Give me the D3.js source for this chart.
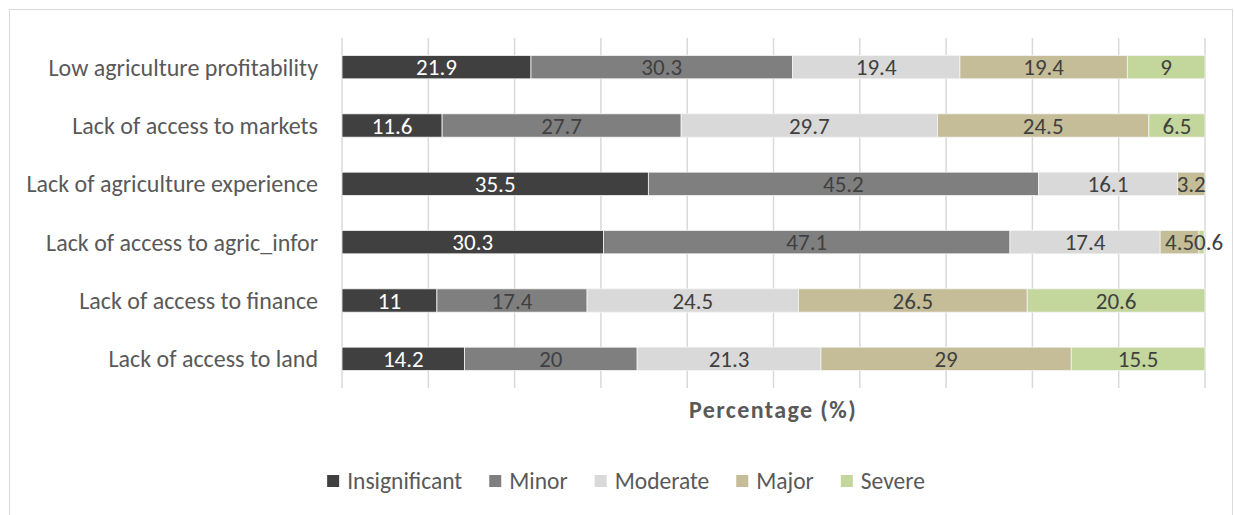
<!DOCTYPE html>
<html><head><meta charset="utf-8">
<script src="https://cdn.jsdelivr.net/npm/d3@7"></script>
<style>body{margin:0;background:#fff}svg{display:block}text{font-family:Carlito,Calibri,Lato,sans-serif}</style>
</head><body><svg id="c" width="1235" height="515"></svg>
<script>
const categories = ["Low agriculture profitability","Lack of access to markets","Lack of agriculture experience","Lack of access to agric_infor","Lack of access to finance","Lack of access to land"];
const seriesNames = ["Insignificant","Minor","Moderate","Major","Severe"];
const insignificant = [21.9, 11.6, 35.5, 30.3, 11, 14.2];
const minor = [30.3, 27.7, 45.2, 47.1, 17.4, 20];
const moderate = [19.4, 29.7, 16.1, 17.4, 24.5, 21.3];
const major = [19.4, 24.5, 3.2, 4.5, 26.5, 29];
const severe = [9, 6.5, null, 0.6, 20.6, 15.5];
const xTicks = [0,10,20,30,40,50,60,70,80,90,100];
const colors = ["#404040","#7f7f7f","#d9d9d9","#c4bd97","#c3d69b"];
const labelColors = ["#ffffff","#404040","#404040","#404040","#404040"];

const seriesVals = [insignificant, minor, moderate, major, severe];
const rows = categories.map((c,i)=>{const o={cat:c}; seriesNames.forEach((s,j)=>o[s]=seriesVals[j][i]||0); return o;});
const stack = d3.stack().keys(seriesNames)(rows);

const svg = d3.select("#c");
svg.append("rect").attr("x",9.5).attr("y",9.5).attr("width",1223).attr("height",520)
  .attr("fill","#fff").attr("stroke","#d9d9d9").attr("stroke-width",1);

const x = d3.scaleLinear().domain([0,100]).range([342,1205]);
const y = d3.scaleBand().domain(categories).range([38,388]).paddingInner(0.6).paddingOuter(0.3);
const FS = "23px";

// gridlines
svg.append("g").selectAll("line").data(xTicks).join("line")
  .attr("x1",d=>x(d)).attr("x2",d=>x(d)).attr("y1",38).attr("y2",388)
  .attr("stroke","#d9d9d9").attr("stroke-width",1.5);

// category axis
const yAxis = svg.append("g").attr("transform","translate(342,0)")
  .call(d3.axisLeft(y).tickSize(0).tickPadding(24));
yAxis.select(".domain").remove();
yAxis.selectAll("text").attr("fill","#595959").style("font-size","24px").attr("dy","0.35em");

// bars
const g = svg.append("g");
stack.forEach((s,si)=>{
  g.append("g").selectAll("rect").data(s.filter(d=>d[1]-d[0]>0)).join("rect")
    .attr("x",d=>x(d[0])).attr("width",d=>x(d[1])-x(d[0]))
    .attr("y",d=>y(d.data.cat)).attr("height",y.bandwidth())
    .attr("fill",colors[si]).attr("stroke","#f4f4f4").attr("stroke-width",0.8);
});
const lastEnd = {};
stack.forEach((s,si)=>{
  g.append("g").selectAll("text").data(s.filter(d=>d[1]-d[0]>0)).join("text")
    .attr("x",d=>(x(d[0])+x(d[1]))/2).attr("y",d=>y(d.data.cat)+y.bandwidth()/2)
    .attr("dy","0.36em").attr("text-anchor","middle")
    .attr("fill",labelColors[si]).style("font-size",FS)
    .text(d=>d.data[seriesNames[si]])
    .each(function(d){
      const w = this.getComputedTextLength();
      let cx = (x(d[0])+x(d[1]))/2;
      const prev = lastEnd[d.data.cat];
      if (prev !== undefined && cx - w/2 < prev) { cx = prev + w/2; d3.select(this).attr("x", cx); }
      lastEnd[d.data.cat] = cx + w/2;
    });
});

// axis title
svg.append("text").attr("x",773).attr("y",410).attr("dy","0.35em").attr("text-anchor","middle")
  .attr("fill","#595959").style("font-size","24px").style("font-weight","bold").style("letter-spacing","1.4px").text("Percentage (%)");

// legend
const leg = svg.append("g");
const items = leg.selectAll("g").data(seriesNames).join("g");
items.append("rect").attr("width",12).attr("height",12).attr("y",-6).attr("fill",(d,i)=>colors[i]);
items.append("text").attr("x",20).attr("dy","0.35em").attr("fill","#595959").style("font-size","23.5px").text(d=>d);
let cx = 0; const pos=[];
items.each(function(){const w=d3.select(this).select("text").node().getComputedTextLength(); pos.push(cx); cx += 20 + w + 27;});
const total = cx - 27;
const start = 626 - total/2;
items.attr("transform",(d,i)=>`translate(${start+pos[i]},481)`);
</script></body></html>
